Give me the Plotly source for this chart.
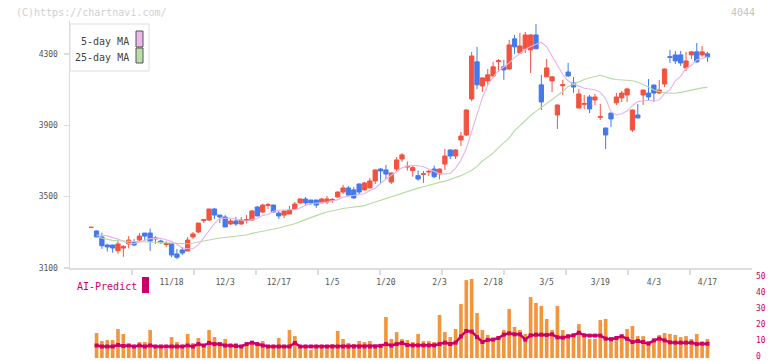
import plotly.graph_objects as go

# ---------------- data ----------------
idx = list(range(116))

opens = [3328, 3308, 3274, 3229, 3229, 3197, 3212, 3235, 3242, 3257,
         3296, 3296, 3263, 3251, 3232, 3236, 3179, 3201, 3195, 3274,
         3302, 3366, 3369, 3431, 3397, 3386, 3347, 3364, 3347, 3367,
         3369, 3442, 3414, 3451, 3453, 3408, 3397, 3403, 3431, 3465,
         3487, 3481, 3481, 3465, 3470, 3480, 3498, 3526, 3549, 3538,
         3571, 3538, 3549, 3588, 3655, 3650, 3582, 3655, 3711, 3666,
         3646, 3618, 3625, 3638, 3655, 3627, 3683, 3762, 3728, 3818,
         3846, 4048, 4256, 4121, 4149, 4177, 4257, 4228, 4216, 4385,
         4306, 4329, 4323, 4407, 4127, 4172, 4149, 3958, 4122, 4199,
         4138, 3997, 4018, 4059, 4042, 3945, 3885, 3969, 4026, 4054,
         4070, 3874, 3958, 4070, 4081, 4126, 4081, 4132, 4285, 4295,
         4295, 4222, 4295, 4312, 4295, 4301]
highs = [3328, 3310, 3298, 3236, 3230, 3257, 3229, 3279, 3263, 3296,
         3296, 3321, 3278, 3259, 3251, 3238, 3207, 3218, 3274, 3302,
         3352, 3375, 3431, 3437, 3397, 3397, 3375, 3386, 3386, 3397,
         3425, 3448, 3460, 3465, 3455, 3420, 3422, 3448, 3470, 3490,
         3498, 3483, 3483, 3493, 3504, 3493, 3529, 3566, 3560, 3554,
         3573, 3582, 3605, 3652, 3661, 3678, 3635, 3723, 3745, 3697,
         3674, 3648, 3644, 3650, 3674, 3658, 3768, 3765, 3765, 3863,
         3990, 4312, 4340, 4170, 4216, 4256, 4272, 4267, 4379, 4407,
         4418, 4424, 4410, 4469, 4183, 4272, 4175, 4018, 4155, 4250,
         4171, 4104, 4070, 4070, 4076, 4020, 3887, 3972, 4082, 4093,
         4110, 3988, 4020, 4100, 4160, 4128, 4155, 4218, 4323, 4317,
         4317, 4312, 4317, 4362, 4345, 4312]
lows = [3328, 3272, 3207, 3192, 3186, 3180, 3163, 3210, 3223, 3248,
        3251, 3195, 3236, 3236, 3218, 3160, 3150, 3173, 3195, 3263,
        3296, 3352, 3364, 3375, 3352, 3330, 3341, 3336, 3341, 3350,
        3365, 3390, 3408, 3431, 3412, 3375, 3380, 3403, 3425, 3460,
        3448, 3453, 3437, 3465, 3459, 3465, 3495, 3515, 3504, 3487,
        3509, 3536, 3547, 3571, 3577, 3599, 3571, 3644, 3695, 3646,
        3612, 3590, 3577, 3616, 3603, 3597, 3650, 3711, 3711, 3784,
        3840, 4035, 4104, 4087, 4127, 4166, 4200, 4155, 4211, 4301,
        4306, 4306, 4194, 4329, 3986, 4172, 4087, 3880, 4070, 4171,
        4082, 3997, 3992, 3969, 4014, 3930, 3767, 3891, 4014, 4031,
        4031, 3863, 3941, 4014, 4042, 4031, 4076, 4115, 4250, 4244,
        4233, 4205, 4272, 4250, 4284, 4256]
closes = [3328, 3274, 3225, 3218, 3212, 3235, 3220, 3257, 3229, 3279,
          3279, 3251, 3268, 3242, 3238, 3173, 3160, 3184, 3257, 3291,
          3352, 3371, 3431, 3397, 3386, 3330, 3364, 3347, 3369, 3371,
          3420, 3392, 3453, 3455, 3414, 3392, 3420, 3425, 3459, 3487,
          3465, 3465, 3453, 3487, 3487, 3484, 3526, 3549, 3509, 3493,
          3526, 3577, 3588, 3650, 3644, 3627, 3633, 3706, 3734, 3670,
          3663, 3599, 3629, 3642, 3612, 3655, 3728, 3728, 3762, 3840,
          3986, 4289, 4127, 4166, 4183, 4228, 4262, 4211, 4351, 4340,
          4345, 4407, 4407, 4329, 4031, 4222, 4172, 4014, 4128, 4177,
          4115, 4076, 4022, 3992, 4059, 3949, 3846, 3936, 4059, 4081,
          4104, 3986, 3941, 4098, 4059, 4081, 4098, 4216, 4281, 4261,
          4250, 4261, 4312, 4256, 4312, 4284]

ma5 = [None, 3284, 3285, 3280, 3272, 3262, 3250, 3238, 3236, 3246,
       3252, 3265, 3266, 3267, 3258, 3248, 3232, 3212, 3208, 3208,
       3230, 3268, 3308, 3350, 3378, 3380, 3380, 3375, 3369, 3362,
       3372, 3378, 3395, 3400, 3418, 3424, 3425, 3425, 3428, 3436,
       3452, 3460, 3462, 3465, 3470, 3477, 3482, 3498, 3503, 3504,
       3510, 3516, 3535, 3547, 3575, 3600, 3620, 3640, 3662, 3672,
       3675, 3673, 3668, 3655, 3640, 3628, 3628, 3630, 3660, 3705,
       3770, 3865, 3968, 4055, 4125, 4170, 4205, 4225, 4250, 4280,
       4305, 4325, 4342, 4355, 4366, 4340, 4290, 4235, 4185, 4150,
       4130, 4120, 4108, 4104, 4100, 4085, 4050, 3975, 3958, 3965,
       3980, 4010, 4033, 4038, 4040, 4040, 4042, 4080, 4099, 4150,
       4175, 4220, 4235, 4268, 4275, 4284]
ma25 = [None, 3274, 3268, 3258, 3255, 3253, 3252, 3251, 3250, 3249,
        3247, 3246, 3245, 3244, 3242, 3240, 3238, 3236, 3236, 3240,
        3246, 3252, 3260, 3265, 3268, 3271, 3274, 3277, 3281, 3285,
        3294, 3300, 3305, 3310, 3316, 3324, 3333, 3340, 3348, 3360,
        3372, 3385, 3395, 3405, 3414, 3422, 3429, 3434, 3438, 3442,
        3446, 3450, 3460, 3470, 3482, 3492, 3501, 3512, 3522, 3532,
        3540, 3548, 3556, 3565, 3573, 3580, 3587, 3596, 3605, 3618,
        3632, 3648, 3670, 3700, 3722, 3745, 3775, 3800, 3830, 3870,
        3900, 3930, 3955, 3978, 4000, 4025, 4048, 4065, 4090, 4118,
        4132, 4145, 4157, 4167, 4176, 4181, 4172, 4162, 4157, 4155,
        4153, 4150, 4142, 4130, 4115, 4098, 4090, 4082, 4080, 4080,
        4085, 4092, 4100, 4105, 4110, 4113]

volume = [None, 15.6, 10.6, 11.2, 11.2, 18.1, 15.0, 8.1, 6.7, 10.0,
          10.0, 17.5, 6.9, 6.9, 5.6, 13.1, 10.0, 6.9, 15.0, 9.4,
          12.5, 8.1, 17.5, 13.1, 8.1, 11.9, 8.1, 9.4, 7.5, 8.1,
          10.6, 8.7, 10.6, 8.1, 7.5, 12.5, 8.1, 17.5, 13.7, 8.1,
          7.5, 5.0, 8.1, 8.1, 8.1, 8.7, 16.9, 11.9, 9.4, 8.7,
          10.6, 10.0, 10.6, 8.1, 8.7, 25.6, 11.9, 16.2, 11.9, 11.2,
          10.0, 15.0, 10.6, 10.6, 10.0, 26.9, 16.2, 13.1, 18.1, 33.7,
          48.7, 49.4, 28.1, 17.5, 14.4, 10.6, 13.7, 17.5, 30.6, 19.4,
          17.5, 15.0, 38.1, 34.4, 32.5, 24.4, 17.5, 32.5, 17.5, 15.0,
          15.0, 21.2, 14.4, 11.9, 11.9, 23.7, 24.4, 13.1, 12.5, 13.7,
          18.1, 20.0, 13.7, 13.7, 10.6, 11.9, 14.4, 15.6, 15.0, 14.4,
          13.1, 13.7, 11.9, 15.0, 10.0, 11.9]

ai_predict = [None, 7.8, 7.2, 7.2, 7.2, 8.1, 7.5, 7.8, 7.2, 7.8,
              7.2, 7.8, 7.2, 7.2, 7.2, 7.2, 7.2, 7.2, 7.8, 7.2,
              8.7, 7.8, 9.4, 8.7, 8.7, 7.8, 7.8, 7.5, 7.2, 8.7,
              9.6, 8.7, 7.8, 7.2, 7.2, 7.2, 7.2, 7.2, 9.4, 7.2,
              7.2, 7.2, 7.2, 7.2, 7.2, 7.2, 7.2, 7.2, 7.2, 7.2,
              7.2, 7.2, 7.2, 7.2, 7.6, 8.7, 7.8, 8.7, 9.4, 8.1,
              7.9, 7.9, 7.9, 7.9, 7.9, 8.7, 9.6, 8.7, 9.6, 13.5,
              16.9, 16.5, 13.0, 10.0, 11.3, 11.5, 12.5, 14.6, 15.4, 14.8,
              14.8, 11.5, 14.2, 14.6, 14.6, 14.4, 14.8, 12.9, 12.7, 13.5,
              14.2, 15.8, 14.2, 14.0, 14.0, 14.0, 12.1, 11.7, 12.5, 13.6,
              12.0, 10.0, 10.6, 10.0, 9.0, 11.0, 12.1, 11.0, 9.8, 9.6,
              9.6, 9.6, 9.6, 8.7, 9.0, 8.9]

tick_idx = [15, 25, 35, 45, 55, 65, 75, 85, 95, 105, 115]
tick_labels = ["11/18", "12/3", "12/17", "1/5", "1/20", "2/3",
               "2/18", "3/5", "3/19", "4/3", "4/17"]
price_ticks = [3100, 3500, 3900, 4300]
vol_ticks = [0, 10, 20, 30, 40, 50]

# ---------------- style ----------------
RED = "#F2533F"
BLUE = "#4479EE"
PINK = "#E6B3E8"
GREEN = "#B5DBA3"
ORANGE = "#F2963D"
MAGENTA = "#CC0066"
AXIS = "#DDDDDD"
MONO = "DejaVu Sans Mono"

W, H = 772, 361
L, R = 70, 20
PW = W - L - R

def px(x):
    return (x - L) / PW

def py(y):
    return (H - y) / H

x_lo, x_hi = -3.954, 123.31
y_lo, y_hi = 3100, 4490.7

fig = go.Figure()

fig.add_trace(go.Scatter(x=idx, y=ma25, mode="lines", line=dict(color=GREEN, width=1.1),
                         hoverinfo="skip", showlegend=False))
fig.add_trace(go.Scatter(x=idx, y=ma5, mode="lines", line=dict(color=PINK, width=1.1),
                         hoverinfo="skip", showlegend=False))
fig.add_trace(go.Candlestick(
    x=idx, open=opens, high=highs, low=lows, close=closes,
    increasing=dict(line=dict(color=RED, width=1), fillcolor=RED),
    decreasing=dict(line=dict(color=BLUE, width=1), fillcolor=BLUE),
    whiskerwidth=0, hoverinfo="skip", showlegend=False))

fig.add_trace(go.Bar(x=idx, y=volume, marker=dict(color=ORANGE, line=dict(width=0)),
                     width=0.68, yaxis="y2", hoverinfo="skip", showlegend=False))
fig.add_trace(go.Scatter(x=idx, y=ai_predict, yaxis="y2", mode="lines+markers",
                         line=dict(color=MAGENTA, width=2.5),
                         marker=dict(symbol="square", size=4, color=MAGENTA),
                         hoverinfo="skip", showlegend=False))

minor_vals = [x_lo + k * (x_hi - x_lo) / 11 for k in range(1, 11)]

fig.update_layout(
    width=W, height=H,
    margin=dict(l=L, r=R, t=0, b=0, autoexpand=False),
    paper_bgcolor="white", plot_bgcolor="white",
    boxgap=0.2, boxgroupgap=0,
    bargap=0.3,
    showlegend=False,
    hovermode=False,
    font=dict(family=MONO, size=8, color="#555555"),
    xaxis=dict(
        range=[x_lo, x_hi], anchor="y", showgrid=False, zeroline=False,
        automargin=False,
        showline=True, linecolor=AXIS, linewidth=1.5,
        tickmode="array", tickvals=tick_idx, ticktext=tick_labels,
        ticks="outside", ticklen=6, tickcolor="rgba(0,0,0,0)",
        tickfont=dict(family=MONO, size=8, color="#555555"),
        minor=dict(tickmode="array", tickvals=minor_vals, ticks="outside",
                   ticklen=5, tickcolor=AXIS, tickwidth=1.5, showgrid=False),
        rangeslider=dict(visible=False),
    ),
    yaxis=dict(
        domain=[py(268), py(20)], range=[y_lo, y_hi],
        showgrid=False, zeroline=False, automargin=False,
        showline=True, linecolor=AXIS, linewidth=1.5,
        tickmode="array", tickvals=price_ticks,
        ticks="outside", ticklen=5, tickcolor=AXIS, tickwidth=1.5,
        ticklabelstandoff=4,
        tickfont=dict(family=MONO, size=8, color="#555555"),
    ),
    yaxis2=dict(
        domain=[py(358), py(278)], range=[0, 50], anchor="x", side="right",
        showgrid=False, zeroline=False, showline=False, automargin=False,
        tickmode="array", tickvals=vol_ticks, ticks="",
        ticklabelstandoff=3, ticklabeloverflow="allow", ticklabelshift=-2,
        tickfont=dict(family=MONO, size=8, color=MAGENTA),
    ),
)

shapes = [
    # legend box
    dict(type="rect", xref="paper", yref="paper", x0=px(70), x1=px(149), y0=py(71), y1=py(24),
         line=dict(color="#DDDDDD", width=1), fillcolor="white", layer="above"),
    dict(type="rect", xref="paper", yref="paper", x0=px(136), x1=px(143), y0=py(47), y1=py(31),
         line=dict(color="#555555", width=1), fillcolor="#EBB8EB", layer="above"),
    dict(type="rect", xref="paper", yref="paper", x0=px(136), x1=px(143), y0=py(63), y1=py(48),
         line=dict(color="#555555", width=1), fillcolor="#B9DEAB", layer="above"),
    # AI-Predict swatch
    dict(type="rect", xref="paper", yref="paper", x0=px(142), x1=px(149), y0=py(293), y1=py(277),
         line=dict(width=0), fillcolor=MAGENTA, layer="above"),
]

annotations = [
    dict(text="(C)https://chartnavi.com/", xref="paper", yref="paper", x=px(14), y=py(12),
         xanchor="left", yanchor="middle", showarrow=False,
         font=dict(family=MONO, size=10, color="#CFCFCF")),
    dict(text="4044", xref="paper", yref="paper", x=px(757), y=py(12),
         xanchor="right", yanchor="middle", showarrow=False,
         font=dict(family=MONO, size=10, color="#C4C4C4")),
    dict(text="5-day MA", xref="paper", yref="paper", x=px(131), y=py(41.5),
         xanchor="right", yanchor="middle", showarrow=False,
         font=dict(family=MONO, size=10, color="#444444")),
    dict(text="25-day MA", xref="paper", yref="paper", x=px(131), y=py(57.5),
         xanchor="right", yanchor="middle", showarrow=False,
         font=dict(family=MONO, size=10, color="#444444")),
    dict(text="AI-Predict", xref="paper", yref="paper", x=px(75), y=py(286),
         xanchor="left", yanchor="middle", showarrow=False,
         font=dict(family=MONO, size=10, color=MAGENTA)),
]

fig.update_layout(shapes=shapes, annotations=annotations)

fig.write_html(
    "out.html",
    config={"displayModeBar": False, "staticPlot": True},
    post_script="document.body.style.margin='0px';document.body.style.overflow='hidden';",
)
